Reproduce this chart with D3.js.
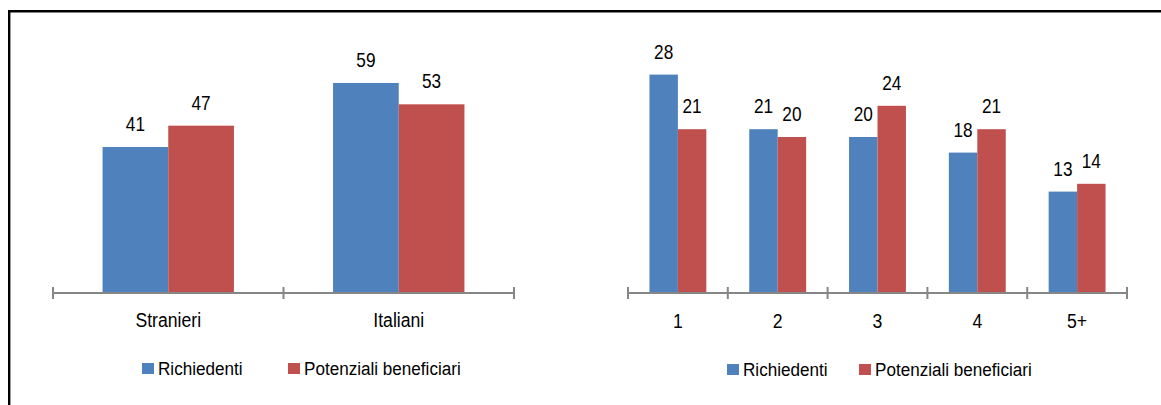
<!DOCTYPE html>
<html>
<head>
<meta charset="utf-8">
<script src="https://cdn.jsdelivr.net/npm/d3@7"></script>
<style>
  html, body { margin: 0; padding: 0; background: #fff; }
  svg { display: block; }
  text { font-family: "Liberation Sans", Arial, sans-serif; fill: #000; }
</style>
</head>
<body>
<div id="chart"></div>
<script>
// ---- data ----
const seriesNames = ["Richiedenti", "Potenziali beneficiari"];
const leftCategories = ["Stranieri", "Italiani"];
const leftRichiedenti = [41, 59];
const leftPotenziali = [47, 53];
const rightCategories = ["1", "2", "3", "4", "5+"];
const rightRichiedenti = [28, 21, 20, 18, 13];
const rightPotenziali = [21, 20, 24, 21, 14];
const colors = ["#4F81BD", "#C0504D"];

const W = 1161, H = 405;
const svg = d3.select("#chart").append("svg").attr("width", W).attr("height", H);

// frame (top + left border)
svg.append("path")
  .attr("d", `M9.2,${H + 2} V11.2 H${W + 2}`)
  .attr("fill", "none").attr("stroke", "#000").attr("stroke-width", 2.4);

function drawPanel(cfg) {
  const { cats, s1, s2, x0, x1, yBase, yMax, pxPerUnit, labelY, legendY, legendX } = cfg;
  const g = svg.append("g");
  const x = d3.scaleBand().domain(cats).range([x0, x1]).paddingInner(0).paddingOuter(0);
  const y = d3.scaleLinear().domain([0, yMax]).range([yBase, yBase - yMax * pxPerUnit]);
  const groupW = x.bandwidth() * 0.57;
  const xs = d3.scaleBand().domain([0, 1]).range([0, groupW]);

  const data = cats.map((c, i) => ({ cat: c, vals: [s1[i], s2[i]] }));
  const grp = g.selectAll("g.cat").data(data).join("g")
    .attr("transform", d => `translate(${x(d.cat) + (x.bandwidth() - groupW) / 2},0)`);

  grp.selectAll("rect").data(d => d.vals.map((v, k) => ({ v, k }))).join("rect")
    .attr("x", d => xs(d.k))
    .attr("width", xs.bandwidth())
    .attr("y", d => y(d.v))
    .attr("height", d => yBase - y(d.v))
    .attr("fill", d => colors[d.k]);

  grp.selectAll("text.val").data(d => d.vals.map((v, k) => ({ v, k }))).join("text")
    .attr("class", "val")
    .attr("text-anchor", "middle")
    .attr("font-size", 21)
    .attr("transform", d => `translate(${xs(d.k) + xs.bandwidth() / 2},${y(d.v) - 16}) scale(0.82,1)`)
    .text(d => d.v);

  // axis
  const axis = g.append("g");
  axis.append("line")
    .attr("x1", x0).attr("x2", x1).attr("y1", yBase).attr("y2", yBase)
    .attr("stroke", "#868686").attr("stroke-width", 2);
  const tickXs = cats.map(c => x(c)).concat([x1]);
  axis.selectAll("line.tick").data(tickXs).join("line")
    .attr("class", "tick")
    .attr("x1", d => d).attr("x2", d => d)
    .attr("y1", yBase - 6).attr("y2", yBase + 6)
    .attr("stroke", "#868686").attr("stroke-width", 2);
  axis.selectAll("text").data(cats).join("text")
    .attr("text-anchor", "middle")
    .attr("font-size", 21)
    .attr("transform", d => `translate(${x(d) + x.bandwidth() / 2},${labelY}) scale(0.84,1)`)
    .text(d => d);

  // legend
  const lg = g.append("g");
  legendX.forEach((lx, k) => {
    lg.append("rect").attr("x", lx).attr("y", legendY - 12).attr("width", 12).attr("height", 11)
      .attr("fill", colors[k]);
    lg.append("text").attr("transform", `translate(${lx + 16},${legendY}) scale(0.9,1)`)
      .attr("font-size", 19)
      .text(seriesNames[k]);
  });
}

drawPanel({
  cats: leftCategories, s1: leftRichiedenti, s2: leftPotenziali,
  x0: 53, x1: 514, yBase: 293, yMax: 70, pxPerUnit: 3.56,
  labelY: 327, legendY: 375, legendX: [142, 288]
});

drawPanel({
  cats: rightCategories, s1: rightRichiedenti, s2: rightPotenziali,
  x0: 628, x1: 1127, yBase: 293, yMax: 30, pxPerUnit: 7.8,
  labelY: 328, legendY: 376, legendX: [727, 859]
});
</script>
</body>
</html>
